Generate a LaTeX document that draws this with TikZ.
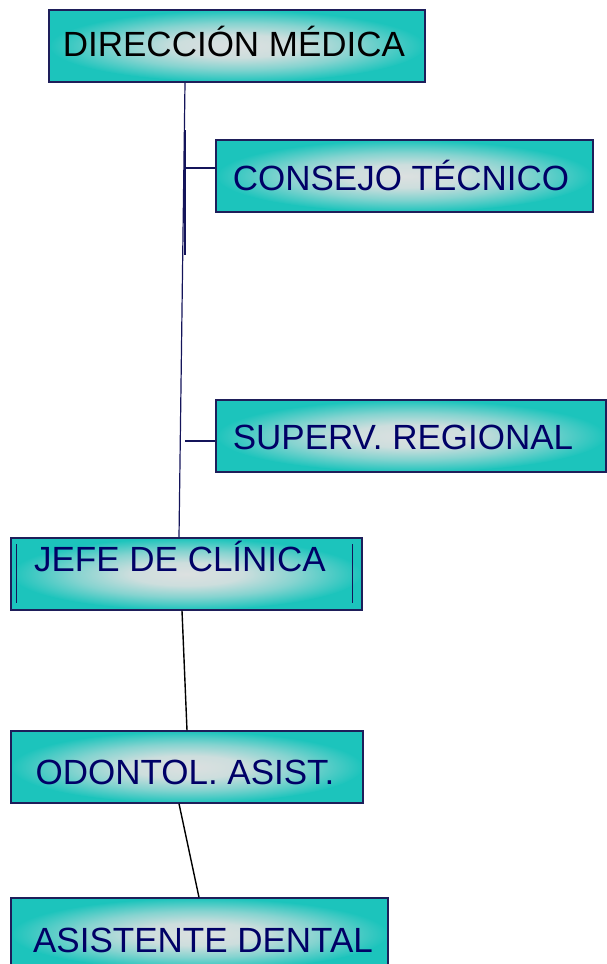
\documentclass[tikz,border=0pt]{standalone}
\usepackage{fontspec}
\setmainfont{Liberation Sans}
\usetikzlibrary{calc}
\definecolor{tealc}{RGB}{28,196,188}
\definecolor{centc}{RGB}{220,224,224}
\definecolor{bordc}{RGB}{30,30,90}
\definecolor{navyt}{RGB}{0,0,102}
\definecolor{linec}{RGB}{20,20,90}
\pgfdeclareradialshading{boxsh}{\pgfpoint{0bp}{0bp}}{%
  color(0bp)=(centc); color(8bp)=(centc!92!tealc); color(16bp)=(centc!55!tealc);
  color(25bp)=(tealc); color(50bp)=(tealc)}
\tikzset{
  box/.style={draw=bordc, line width=1.3pt, fill=tealc, minimum width=#1,
    minimum height=72pt, inner sep=0pt,
    path picture={\shade[shading=boxsh]
      (path picture bounding box.center) ellipse [x radius=0.5*#1, y radius=36pt];}},
  txt/.style={font=\fontsize{35}{40}\selectfont, text=navyt, inner sep=0pt},
  upline/.style={draw=linec, line width=1.2pt},
  lowline/.style={draw=black, line width=1.4pt}
}
\begin{document}
\begin{tikzpicture}[x=1pt,y=-1pt]
\useasboundingbox (0,0) rectangle (607,964);
\clip (0,0) rectangle (607,964);
% boxes
\node[box=376pt] (dm) at (237,46) {};
\node[box=377pt] (ct) at (404.5,176) {};
\node[box=390pt] (sr) at (411,436) {};
\node[box=351pt] (jc) at (186.5,574) {};
\node[box=352pt] (oa) at (187,767) {};
\node[box=377pt] (ad) at (199.5,934) {};
% texts
\node[txt, text=black] (dmt) at (234,41) {DIRECCIÓN MÉDICA};
\node[txt] (ctt) at (401,175) {CONSEJO TÉCNICO};
\node[txt] (srt) at (403,437) {SUPERV. REGIONAL};
\node[txt] (jct) at (180,556) {JEFE DE CLÍNICA};
\node[txt] (oat) at (185,772) {ODONTOL. ASIST.};
\node[txt] (adt) at (203,940) {ASISTENTE DENTAL};
% inner bars of jefe de clinica
\draw[upline] ([xshift=6pt,yshift=-7pt]jc.north west) -- ([xshift=6pt,yshift=8pt]jc.south west);
\draw[upline] ([xshift=-10pt,yshift=-7pt]jc.north east) -- ([xshift=-10pt,yshift=8pt]jc.south east);
% connectors
\coordinate (b1) at (185,168);
\coordinate (b2) at (185,441);
\coordinate (s1) at (185,130);
\coordinate (s2) at (185,255);
\draw[upline] ([xshift=-52pt]dm.south) -- ([xshift=-7.5pt]jc.north);
\draw[upline] (s1) -- (s2);
\draw[upline] (b1) -- (b1 -| ct.west);
\draw[upline] (b2) -- (b2 -| sr.west);
\draw[lowline] ([xshift=-4.5pt]jc.south) -- (oa.north);
\draw[lowline] ([xshift=-8pt]oa.south) -- ([xshift=-0.5pt]ad.north);
\end{tikzpicture}
\end{document}
